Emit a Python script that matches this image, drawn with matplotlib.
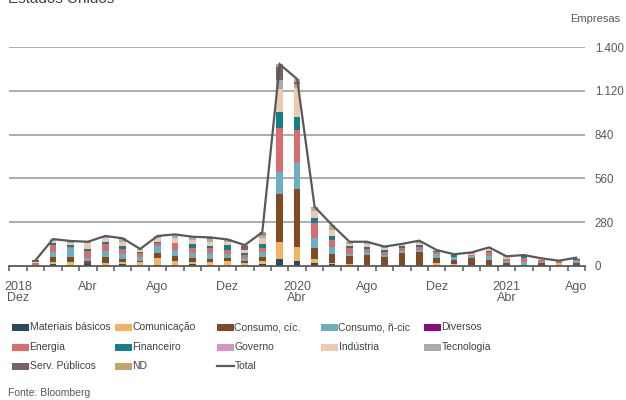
import numpy as np
import matplotlib
matplotlib.use("Agg")
import matplotlib.pyplot as plt
from matplotlib.patches import Rectangle
from matplotlib.lines import Line2D
from matplotlib.ticker import FuncFormatter

plt.rcParams['font.family'] = ['Liberation Sans', 'DejaVu Sans']

# Months Dec 2018 .. Aug 2021 (Dec 2018 has no data)
month_labels = ["2018\nDez", "Abr", "Ago", "Dez", "2020\nAbr", "Ago", "Dez", "2021\nAbr", "Ago"]
label_positions = [0, 4, 8, 12, 16, 20, 24, 28, 32]

# Monthly counts by sector, Jan 2019 .. Aug 2021
materiais = [0, 13, 0, 11, 0, 11, 0, 9, 0, 11, 0, 0, 0, 11, 45, 34, 17, 10, 0, 0, 0, 0, 0, 0, 0, 0, 3, 0, 0, 0, 0, 0]
comunicacao = [0, 15, 23, 0, 17, 13, 28, 40, 32, 13, 23, 32, 17, 23, 107, 90, 26, 6, 13, 9, 2, 3, 3, 21, 11, 9, 6, 3, 3, 0, 21, 0]
consumo_cic = [2, 32, 36, 21, 43, 21, 6, 32, 32, 26, 21, 17, 15, 26, 307, 366, 75, 60, 53, 62, 53, 83, 89, 28, 28, 43, 32, 17, 4, 17, 0, 17]
consumo_ncic = [6, 32, 53, 21, 36, 32, 23, 47, 38, 36, 36, 26, 17, 32, 141, 170, 64, 47, 11, 17, 17, 11, 11, 28, 21, 9, 26, 13, 17, 11, 0, 15]
diversos = [0, 0, 0, 0, 0, 0, 0, 0, 0, 0, 0, 0, 0, 0, 4, 0, 0, 0, 0, 0, 0, 0, 0, 0, 0, 0, 0, 0, 0, 0, 0, 0]
energia = [10, 43, 11, 43, 45, 32, 28, 21, 43, 32, 32, 28, 21, 21, 281, 209, 96, 43, 36, 21, 15, 21, 17, 11, 0, 9, 23, 13, 28, 11, 11, 9]
financeiro = [0, 11, 11, 13, 15, 21, 3, 4, 3, 23, 15, 32, 11, 26, 100, 81, 32, 26, 13, 11, 15, 9, 15, 8, 9, 0, 9, 0, 9, 0, 0, 4]
governo = [0] * 32
industria = [8, 17, 15, 36, 21, 26, 17, 27, 32, 26, 28, 21, 21, 38, 145, 185, 43, 38, 15, 21, 13, 13, 15, 6, 6, 9, 17, 13, 9, 9, 2, 8]
tecnologia = [2, 9, 9, 0, 11, 15, 4, 8, 17, 19, 15, 9, 0, 21, 58, 26, 17, 17, 9, 9, 6, 0, 6, 0, 0, 8, 0, 3, 0, 1, 0, 0]
serv_publicos = [8, 0, 0, 0, 0, 0, 0, 0, 0, 0, 6, 0, 28, 6, 81, 17, 0, 4, 0, 0, 0, 0, 0, 0, 0, 0, 0, 0, 0, 0, 0, 0]
nd = [0, 0, 2, 10, 4, 6, 0, 4, 5, 1, 7, 5, 4, 11, 21, 17, 9, 11, 5, 5, 3, 1, 6, 0, 0, 0, 3, 0, 0, 0, 0, 0]

sectors = [
    ("Materiais básicos", materiais, "#2C4A5C"),
    ("Comunicação", comunicacao, "#F4B45F"),
    ("Consumo, cíc.", consumo_cic, "#7F4A24"),
    ("Consumo, ñ-cic", consumo_ncic, "#6BAFC2"),
    ("Diversos", diversos, "#8B0A80"),
    ("Energia", energia, "#D86E6B"),
    ("Financeiro", financeiro, "#138089"),
    ("Governo", governo, "#D495C2"),
    ("Indústria", industria, "#EDC9AF"),
    ("Tecnologia", tecnologia, "#ABABAB"),
    ("Serv. Públicos", serv_publicos, "#7A6262"),
    ("ND", nd, "#C4A46A"),
]
total_color = "#595959"
text_color = "#595959"

W, H = 626, 400
fig = plt.figure(figsize=(W / 100, H / 100), dpi=100)
ax = fig.add_axes([9.3 / W, 1 - 266 / H, (585 - 9.3) / W, 219 / H])

x = np.arange(1, 33)
bottom = np.zeros(32)
for name, vals, color in sectors:
    v = np.array(vals, dtype=float)
    ax.bar(x, v, width=0.38, bottom=bottom, color=color, linewidth=0, zorder=2)
    bottom += v
total = bottom
ax.plot(x, total, color=total_color, lw=1.6, zorder=3, solid_joinstyle='miter')

ax.set_xlim(-0.5, 32.5)
ax.set_ylim(0, 1400)
ax.set_axisbelow(True)

# y axis on the right, grid lines
ax.yaxis.tick_right()
ax.set_yticks([0, 280, 560, 840, 1120, 1400])
ax.yaxis.set_major_formatter(FuncFormatter(lambda v, p: f"{int(v):,}".replace(",", ".")))
ax.tick_params(axis='y', length=0, pad=7, labelsize=8.3, labelcolor=text_color)
for yv in [280, 560, 840, 1120, 1400]:
    ax.axhline(yv, color="#A6A6A6", lw=1.3, zorder=1)

# x axis
ax.set_xticks(label_positions)
ax.set_xticklabels(month_labels, linespacing=0.95)
ax.set_xticks(np.arange(-0.5, 33, 1), minor=True)
ax.tick_params(axis='x', which='major', length=0, pad=10.5, labelsize=9, labelcolor=text_color)
ax.tick_params(axis='x', which='minor', length=3.5, width=1.1, color=total_color, direction='out')

for s in ['top', 'right', 'left']:
    ax.spines[s].set_visible(False)
ax.spines['bottom'].set_color(total_color)
ax.spines['bottom'].set_linewidth(1.3)

# Titles and notes
fig.text(8 / W, 1 - 2.7 / H, "Estados Unidos", fontsize=11, color="#404040", va='baseline', ha='left')
fig.text(620 / W, 1 - 19 / H, "Empresas", fontsize=8, color=text_color, va='center', ha='right')
fig.text(8 / W, 1 - 393 / H, "Fonte: Bloomberg", fontsize=7.5, color=text_color, va='center', ha='left')

# Legend laid out in five columns
col_x = [12, 115, 217, 321, 424]
row_y = [327, 347, 366]
entries = [(name, color) for name, _, color in sectors] + [("Total", None)]
for i, (name, color) in enumerate(entries):
    cx = col_x[i % 5]
    cy = row_y[i // 5]
    if color is None:
        fig.add_artist(Line2D([cx / W, (cx + 17) / W], [1 - cy / H, 1 - cy / H],
                              color=total_color, lw=1.6, transform=fig.transFigure))
    else:
        fig.add_artist(Rectangle((cx / W, 1 - (cy + 3.5) / H), 17 / W, 7 / H,
                                 facecolor=color, edgecolor='none', transform=fig.transFigure))
    fig.text((cx + 17.5) / W, 1 - cy / H, name, fontsize=7.5, color="#404040", va='center', ha='left')

fig.savefig("out.png", dpi=100)
